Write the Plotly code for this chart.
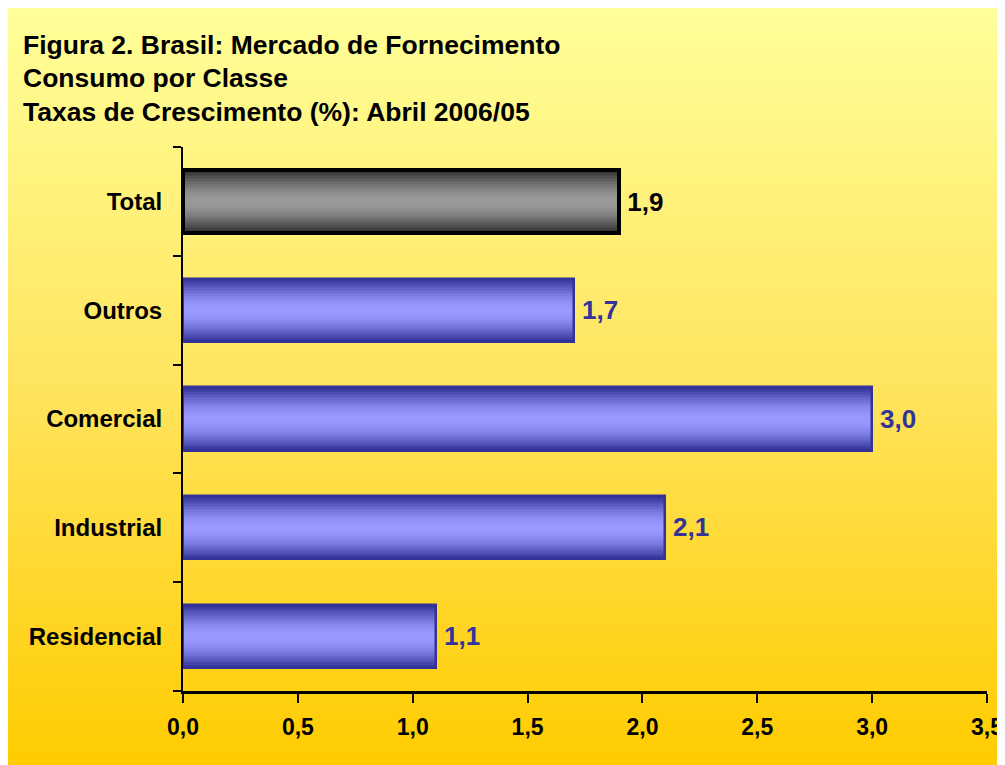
import plotly.graph_objects as go
import numpy as np

# ---- data ----
categories = ["Residencial", "Industrial", "Comercial", "Outros", "Total"]
values = [1.1, 2.1, 3.0, 1.7, 1.9]
x_tick_vals = [0.0, 0.5, 1.0, 1.5, 2.0, 2.5, 3.0, 3.5]
title_lines = [
    "Figura 2. Brasil: Mercado de Fornecimento",
    "Consumo por Classe",
    "Taxas de Crescimento (%): Abril 2006/05",
]

# ---- style ----
W, H = 997, 757   # page has an 8px body margin
FONT = "Liberation Sans, Arial, sans-serif"
blue_dark, blue_light = np.array([0x33, 0x33, 0x99]), np.array([0x99, 0x99, 0xFF])
grey_dark, grey_light = np.array([0x2E, 0x2E, 0x2E]), np.array([0x99, 0x99, 0x99])
is_total = [c == "Total" for c in categories]
bar_w = 0.58
N = 20

def mix(a, b, t):
    c = a + (b - a) * t
    return "rgb(%d,%d,%d)" % tuple(int(round(v)) for v in c)

fig = go.Figure()

# background gradient on a full-page helper subplot
fig.add_trace(go.Scatter(
    x=[0, 1, 1, 0, 0], y=[0, 0, 1, 1, 0], mode="none", fill="toself",
    fillgradient=dict(type="vertical", colorscale=[[0, "#FFCC00"], [0.5, "#FFE45E"], [1, "#FFFF99"]]),
    xaxis="x", yaxis="y", hoverinfo="skip", showlegend=False,
))

# layered bars -> cylinder shading
for k in range(N):
    r = 1 - k / N
    w = bar_w * r
    t = np.cos(r * np.pi / 2)
    cols = [mix(grey_dark, grey_light, t) if tot else mix(blue_dark, blue_light, t) for tot in is_total]
    fig.add_trace(go.Bar(
        y=categories, x=values, orientation="h", width=w,
        marker=dict(color=cols, line=dict(width=0)),
        xaxis="x2", yaxis="y2", hoverinfo="skip", showlegend=False,
    ))

# outline + value labels
fig.add_trace(go.Bar(
    y=categories, x=values, orientation="h", width=bar_w,
    marker=dict(color="rgba(0,0,0,0)",
                line=dict(color=["#000000" if t else "#333399" for t in is_total],
                          width=[4 if t else 2.5 for t in is_total])),
    texttemplate="\u2009%{x:.1f}", textposition="outside", cliponaxis=False,
    textfont=dict(family=FONT, size=26, weight="bold",
                  color=["#000000" if t else "#333399" for t in is_total]),
    xaxis="x2", yaxis="y2", showlegend=False,
))

annotations = []
for i, line in enumerate(title_lines):
    annotations.append(dict(
        text=line, xref="paper", yref="paper", x=13 / W, y=1 - (37 + 33.5 * i) / H,
        xanchor="left", yanchor="middle", showarrow=False,
        font=dict(family=FONT, size=26.5, weight="bold", color="black"),
    ))

fig.update_layout(
    width=W, height=H, template="none", separators=",.",
    margin=dict(l=0, r=0, t=0, b=0), paper_bgcolor="white", plot_bgcolor="rgba(0,0,0,0)",
    barmode="overlay", bargap=0, showlegend=False,
    annotations=annotations,
    xaxis=dict(domain=[0, 1], range=[0, 1], visible=False, fixedrange=True),
    yaxis=dict(domain=[0, 1], range=[0, 1], visible=False, fixedrange=True),
    xaxis2=dict(
        domain=[175 / W, 979 / W], anchor="y2", range=[0, 3.5],
        tickvals=x_tick_vals, tickformat=".1f", showgrid=False, zeroline=False,
        showline=True, linecolor="black", linewidth=3,
        ticks="outside", ticklen=9, tickwidth=2, tickcolor="black",
        ticklabelstandoff=4, automargin=False,
        tickfont=dict(family=FONT, size=23, weight="bold", color="black"),
    ),
    yaxis2=dict(
        domain=[1 - 683 / H, 1 - 139 / H], anchor="x2", type="category",
        categoryorder="array", categoryarray=categories,
        showgrid=False, zeroline=False, showline=True, linecolor="black", linewidth=2,
        ticks="outside", tickson="boundaries", ticklen=8, tickwidth=2, tickcolor="black",
        ticklabelstandoff=14, automargin=False,
        tickfont=dict(family=FONT, size=24, weight="bold", color="black"),
    ),
)

fig.write_html("out.html")
